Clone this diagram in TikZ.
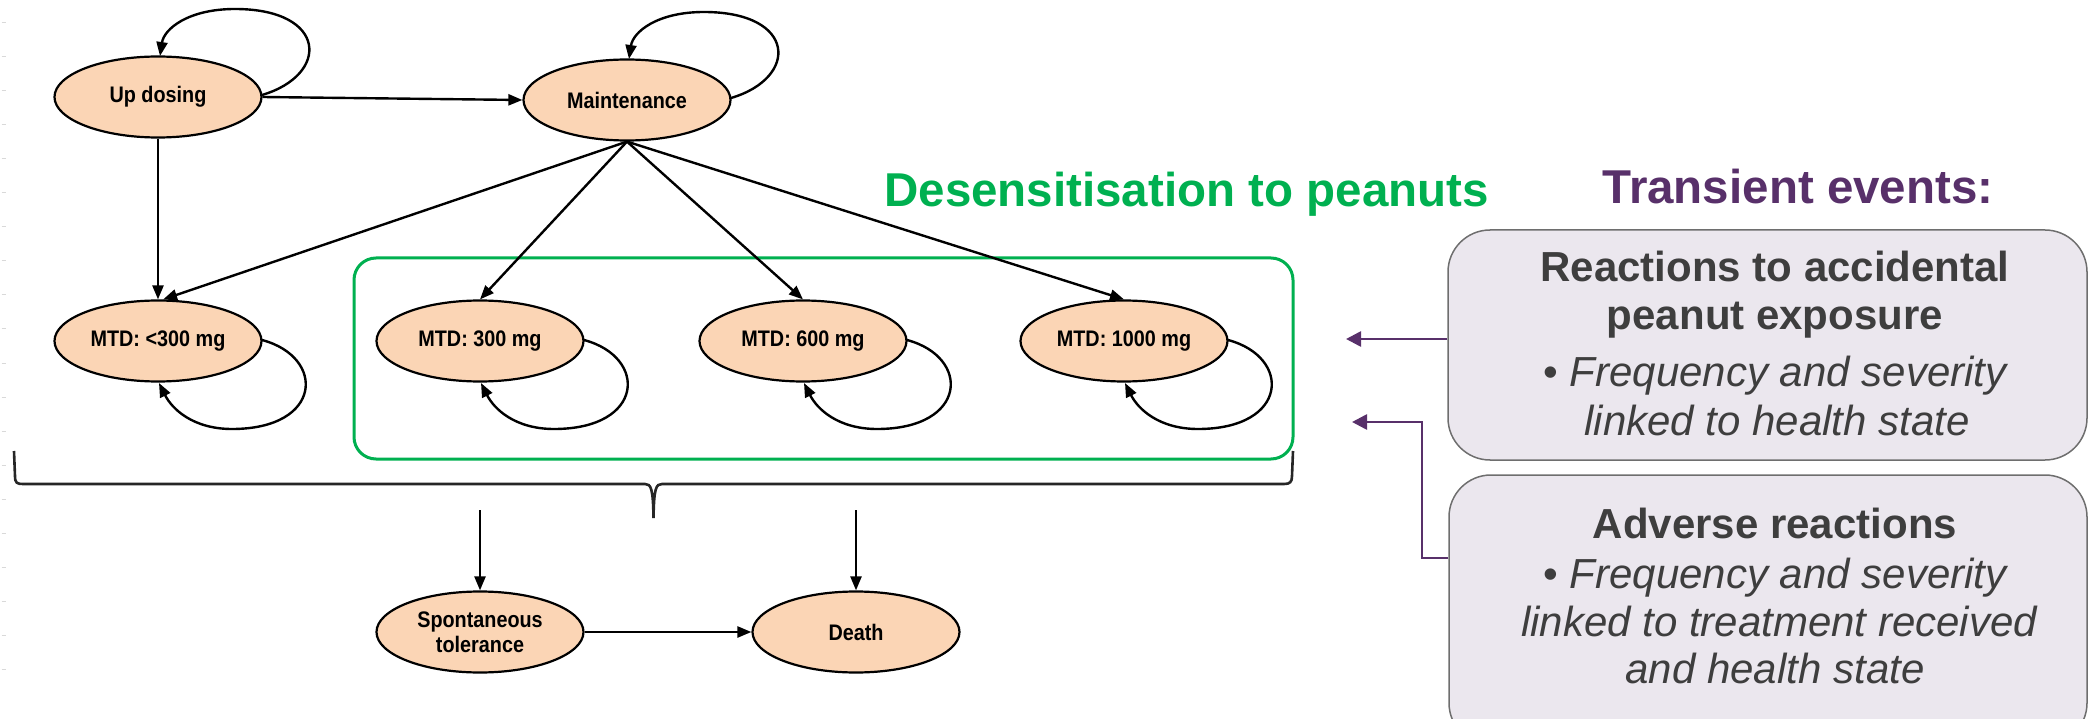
\documentclass[tikz,border=0pt]{standalone}
\usepackage{fontspec}
\setmainfont{Liberation Sans}
\newfontfamily\statefont[FakeStretch=0.88]{Liberation Sans}
\usetikzlibrary{shapes.geometric,arrows.meta,calc}

\definecolor{peach}{RGB}{251,213,181}
\definecolor{desgreen}{RGB}{0,176,80}
\definecolor{evpurple}{RGB}{88,48,106}
\definecolor{boxfill}{RGB}{235,231,238}
\definecolor{boxline}{RGB}{110,110,110}
\definecolor{boxtext}{RGB}{62,62,62}

\tikzset{
  state/.style={ellipse, draw=black, line width=2.2pt, fill=peach,
    minimum width=207pt, minimum height=81pt, inner sep=0pt, align=center,
    font=\statefont\bfseries\fontsize{22.5}{25}\selectfont},
  conn/.style={line width=2.4pt, -{Triangle[length=14pt,width=11pt]}},
  desframe/.style={rectangle, rounded corners=22pt, draw=desgreen,
    line width=3pt, inner sep=0pt},
  evbox/.style={rectangle, rounded corners=42pt, draw=boxline,
    line width=1.5pt, fill=boxfill, inner sep=0pt},
  evline/.style={draw=evpurple, line width=2.7pt,
    -{Triangle[length=15pt,width=15pt]}},
  heading/.style={anchor=base, inner sep=0pt,
    font=\bfseries\fontsize{47.5}{57}\selectfont},
  evhead/.style={anchor=base, inner sep=0pt, text=boxtext,
    font=\bfseries\fontsize{42}{48}\selectfont},
  evitem/.style={anchor=base, inner sep=0pt, text=boxtext,
    font=\itshape\fontsize{42}{48}\selectfont},
  bracket/.style={draw=black!85, line width=2.6pt},
  margintick/.style={draw=black!15, line width=1pt}
}

% self loop above a state, entering its top
\newcommand\upperloop[1]{%
  \draw[conn] ($(#1.center)+(104,-2)$)
    .. controls ($(#1.center)+(172,-22)$) and ($(#1.center)+(170,-88)$) ..
    ($(#1.center)+(77,-88)$)
    .. controls ($(#1.center)+(30,-88)$) and ($(#1.center)+(6,-68)$) ..
    ($(#1.center)+(2,-41)$);}
% self loop below a state, entering its bottom
\newcommand\lowerloop[1]{%
  \draw[conn] ($(#1.center)+(104,-1)$)
    .. controls ($(#1.center)+(168,16)$) and ($(#1.center)+(165,88)$) ..
    ($(#1.center)+(74,88)$)
    .. controls ($(#1.center)+(35,88)$) and ($(#1.center)+(14,68)$) ..
    ($(#1.center)+(1,42)$);}

\begin{document}
\begin{tikzpicture}[x=1pt,y=-1pt]
\useasboundingbox (0,0) rectangle (2091,719);

% faint ticks along the left margin
\foreach \k in {0,...,19}
  \draw[margintick] (1.5,{23+34*\k}) -- (5.5,{23+34*\k});

% health states
\node[state] (ud)    at (158,97)  {Up dosing};
\node[state] (mt)    at (627,100) {Maintenance};
\node[state] (mlow)  at (158,341) {MTD: <300 mg};
\node[state] (m300)  at (480,341) {MTD: 300 mg};
\node[state] (m600)  at (803,341) {MTD: 600 mg};
\node[state] (m1000) at (1124,341) {MTD: 1000 mg};
\node[state] (spt)   at (480,632) {Spontaneous\\tolerance};
\node[state] (death) at (856,632) {Death};

% desensitised states frame and heading
\node[desframe, minimum width=939pt, minimum height=201pt] (desbox) at (823.5,358.5) {};
\node[heading, text=desgreen] (destitle) at (1186.5,206.7) {Desensitisation to peanuts};

% transitions
\upperloop{ud}
\upperloop{mt}
\lowerloop{mlow}
\lowerloop{m300}
\lowerloop{m600}
\lowerloop{m1000}
\draw[conn] (ud.east) -- (mt.west);
\draw[conn] (ud.south) -- (mlow.north);
\draw[conn] (mt.south) -- (mlow.83);
\draw[conn] (mt.south) -- (m300.north);
\draw[conn] (mt.south) -- (m600.north);
\draw[conn] (mt.south) -- (m1000.north);
\draw[conn] (spt.east) -- (death.west);

% bracket gathering the MTD states
\draw[bracket] (14,451) -- (15,476)
  .. controls (15,483) and (17,484) .. (23,484) -- (645,484)
  .. controls (651,484) and (653,488) .. (653.5,518)
  .. controls (654,488) and (656,484) .. (662,484) -- (1284,484)
  .. controls (1290,484) and (1292,482) .. (1292,476) -- (1293,451);
\coordinate (sptin) at (480,510);
\coordinate (deathin) at (856,510);
\draw[conn] (sptin) -- (spt.north);
\draw[conn] (deathin) -- (death.north);

% transient events
\node[heading, text=evpurple] (evtitle) at (1798,203.3) {Transient events:};
\node[evbox, minimum width=639pt, minimum height=230pt] (box1) at (1767.5,345) {};
\node[evbox, minimum width=638pt, minimum height=270pt] (box2) at (1768,610) {};

\node[evhead] (r1) at (1775,281.7) {Reactions to accidental};
\node[evhead] (r2) at (1775,330) {peanut exposure};
\node[evitem] (r3) at (1775,386.7) {{\upshape•} Frequency and severity};
\node[evitem] (r4) at (1777,435) {linked to health state};

\node[evhead] (a1) at (1775,538.3) {Adverse reactions};
\node[evitem] (a2) at (1775,588.3) {{\upshape•} Frequency and severity};
\node[evitem] (a3) at (1779,636.7) {linked to treatment received};
\node[evitem] (a4) at (1775,683.3) {and health state};

\coordinate (tip1) at (1346,339);
\coordinate (tip2) at (1352,422);
\coordinate (b2out) at ($(box2.west)+(0,-52)$);
\draw[evline] (box1.west |- tip1) -- (tip1);
\draw[evline] (b2out) -| (1422,422) -- (tip2);
\end{tikzpicture}
\end{document}
